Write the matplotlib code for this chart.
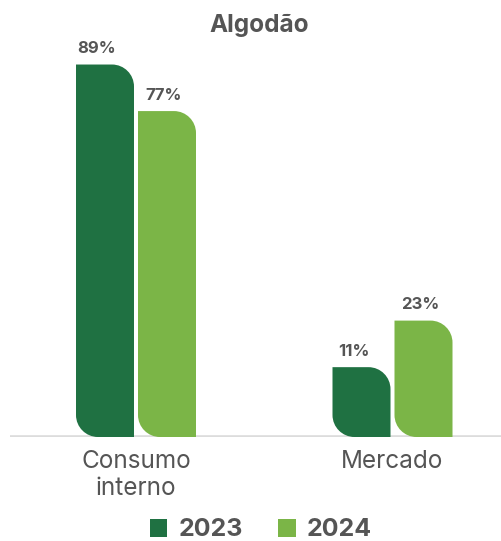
import matplotlib
matplotlib.use("Agg")
import matplotlib.pyplot as plt
from matplotlib.path import Path
from matplotlib.patches import PathPatch, Patch

categories = ["Consumo\ninterno", "Mercado"]
series_names = ["2023", "2024"]
values_2023 = [89, 11]
values_2024 = [77, 23]
title = "Algodão"

colors = ["#1f7142", "#7bb547"]
grey = "#555555"
font = ["Inter", "DejaVu Sans"]

W, H = 502, 541
fig = plt.figure(figsize=(W / 100, H / 100), dpi=100)

base = -7
px_per_unit_y = 3.88
px_per_unit_x = 256.5
ax_left_px, ax_right_px = 10, 502
baseline_px = 437
ax = fig.add_axes([ax_left_px / W, (H - baseline_px) / H,
                   (ax_right_px - ax_left_px) / W, baseline_px / H])
ax.set_ylim(base, base + baseline_px / px_per_unit_y)
x0_px = 136
ax.set_xlim((ax_left_px - x0_px) / px_per_unit_x, (ax_right_px - x0_px) / px_per_unit_x)

bar_w = 58 / px_per_unit_x
offset = 31 / px_per_unit_x
rad_px = 22
rx = rad_px / px_per_unit_x
ry = rad_px / px_per_unit_y
k = 0.5523


def leaf_path(x0, x1, y0, y1):
    verts = [
        (x0, y1),
        (x1 - rx, y1),
        (x1 - rx + k * rx, y1), (x1, y1 - ry + k * ry), (x1, y1 - ry),
        (x1, y0),
        (x0 + rx, y0),
        (x0 + rx - k * rx, y0), (x0, y0 + ry - k * ry), (x0, y0 + ry),
        (x0, y1),
    ]
    codes = [Path.MOVETO, Path.LINETO,
             Path.CURVE4, Path.CURVE4, Path.CURVE4,
             Path.LINETO, Path.LINETO,
             Path.CURVE4, Path.CURVE4, Path.CURVE4,
             Path.CLOSEPOLY]
    return Path(verts, codes)


label_shift_px = [-8, -3]
for si, (vals, col) in enumerate(zip([values_2023, values_2024], colors)):
    xs = [i + (si - 0.5) * 2 * offset for i in range(len(categories))]
    bars = ax.bar(xs, [v - base for v in vals], bottom=base, width=bar_w,
                  color=col, alpha=0)
    for b, v in zip(bars, vals):
        x0 = b.get_x()
        x1 = x0 + b.get_width()
        ax.add_patch(PathPatch(leaf_path(x0, x1, base, v), facecolor=col,
                               edgecolor="none", zorder=3))
        ax.annotate(f"{v}%", (x0 + b.get_width() / 2, v),
                    xytext=(label_shift_px[si] * 0.72, 6), textcoords="offset points",
                    ha="center", va="bottom", fontsize=12, fontweight="bold",
                    color=grey, family=font)

ax.axhline(base, color="#dcdcdc", lw=2.6, zorder=2)

ax.set_xticks(range(len(categories)))
ax.set_xticklabels(categories, fontsize=17.5, color=grey, family=font,
                   linespacing=1.25, multialignment="center")
ax.tick_params(axis="x", length=0, pad=9)
ax.set_yticks([])
for s in ax.spines.values():
    s.set_visible(False)

fig.text(259 / W, 1 - 25 / H, title, ha="center", va="center", fontsize=17.5,
         fontweight="bold", color=grey, family=font)

handles = [Patch(facecolor=c, edgecolor="none") for c in colors]
fig.legend(handles, series_names, loc="center", bbox_to_anchor=(261 / W, 1 - 530 / H),
           ncol=2, frameon=False, handlelength=0.7, handleheight=0.7,
           handletextpad=0.45, columnspacing=1.4,
           prop={"family": font, "weight": "bold", "size": 18},
           labelcolor=grey)

fig.savefig("out.png", dpi=100)
